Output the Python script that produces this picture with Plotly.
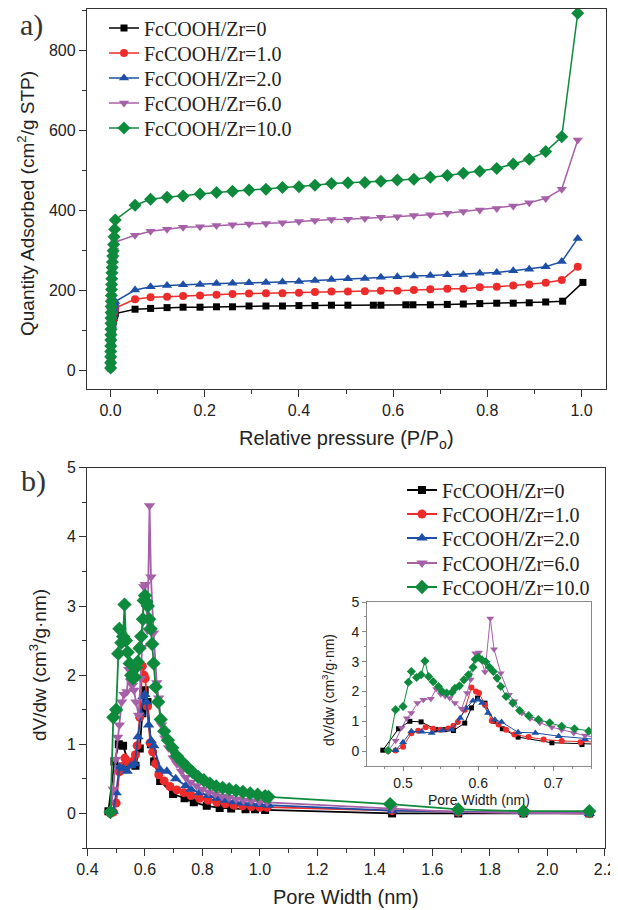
import plotly.graph_objects as go

# ---------------- Panel a data (N2 isotherms) ----------------
names = ["FcCOOH/Zr=0", "FcCOOH/Zr=1.0", "FcCOOH/Zr=2.0", "FcCOOH/Zr=6.0", "FcCOOH/Zr=10.0"]
colors = ["#000000", "#ee2b2b", "#1d4fa6", "#a660a8", "#0e8a3c"]
symbols = ["square", "circle", "triangle-up", "triangle-down", "diamond"]

low_p = [0.0001, 0.0002, 0.0003, 0.0004, 0.0005, 0.0006, 0.0007, 0.0008, 0.0009, 0.001,
         0.0012, 0.0014, 0.0016, 0.0018, 0.002, 0.0023, 0.0026, 0.003, 0.0035, 0.004,
         0.0047, 0.0055, 0.0065, 0.0075, 0.0087, 0.010]
low_y_0 = [5, 10, 16, 21, 27, 33, 38, 44, 50, 55, 61, 66, 71, 77, 83, 88, 94, 99, 105, 110,
           115, 121, 126, 131, 136, 141]
low_y_1 = [5, 11, 17, 24, 29, 35, 42, 47, 53, 60, 65, 71, 78, 83, 89, 96, 101, 107, 114, 119,
           125, 131, 137, 143, 149, 155]
low_y_2 = [5, 12, 19, 27, 33, 40, 48, 54, 61, 69, 75, 82, 90, 96, 103, 111, 117, 124, 132,
           138, 145, 151, 157, 162, 167, 171]
low_y_6 = [5, 17, 31, 43, 56, 70, 82, 95, 109, 121, 134, 148, 160, 173, 187, 199, 212, 226,
           238, 251, 265, 276, 288, 300, 310, 320]
low_y_10 = [5, 18, 33, 46, 60, 75, 88, 102, 117, 130, 144, 159, 172, 186, 201, 214, 228, 243,
            256, 270, 285, 298, 314, 333, 352, 375]

a_x = [0.052, 0.085, 0.120, 0.154, 0.190, 0.225, 0.259, 0.294, 0.330, 0.365, 0.400, 0.434,
       0.469, 0.504, 0.540, 0.574, 0.609, 0.644, 0.679, 0.715, 0.749, 0.784, 0.820, 0.855,
       0.889, 0.924, 0.958, 0.992]
a_x_0 = [0.052, 0.085, 0.120, 0.154, 0.190, 0.225, 0.259, 0.294, 0.330, 0.365, 0.400, 0.434,
         0.469, 0.504, 0.558, 0.574, 0.627, 0.642, 0.679, 0.715, 0.749, 0.784, 0.820, 0.855,
         0.889, 0.924, 0.960, 1.003]
a_y_0 = [152, 154, 156, 157, 157, 158, 158, 160, 160, 160, 161, 161, 162, 162, 162, 162, 163,
         163, 163, 164, 165, 166, 167, 167, 168, 170, 172, 219]
a_y_1 = [177, 182, 183, 185, 186, 188, 190, 191, 192, 192, 193, 195, 196, 196, 197, 198, 198,
         200, 202, 203, 203, 207, 208, 211, 214, 218, 225, 258]
a_y_2 = [200, 208, 211, 213, 214, 216, 217, 218, 219, 220, 221, 224, 226, 228, 229, 232, 233,
         235, 236, 238, 239, 242, 244, 248, 252, 258, 271, 329]
a_y_6 = [337, 347, 352, 357, 358, 361, 363, 365, 366, 368, 371, 374, 376, 377, 379, 382, 383,
         386, 388, 392, 396, 400, 404, 410, 418, 429, 452, 575]
a_y_10 = [412, 427, 432, 435, 440, 444, 447, 450, 452, 456, 458, 462, 466, 468, 469, 472, 475,
          477, 482, 486, 492, 497, 504, 515, 527, 546, 583, 892]

# ---------------- Panel b data (pore size distribution) ----------------
b_x_0 = [0.473, 0.494, 0.509, 0.524, 0.544, 0.556, 0.567, 0.582, 0.591, 0.599, 0.609, 0.621,
         0.632, 0.653, 0.698, 0.738, 0.770, 0.815, 0.860, 0.900, 0.950, 0.983, 1.018, 1.460,
         1.690, 1.917, 2.146]
b_y_0 = [0.03, 0.75, 1.00, 0.98, 0.72, 0.72, 0.69, 0.94, 1.45, 1.78, 1.61, 1.00, 0.75, 0.47,
         0.28, 0.22, 0.16, 0.11, 0.08, 0.07, 0.06, 0.06, 0.05, 0.00, 0.00, 0.00, 0.00]
b_x_1 = [0.480, 0.490, 0.500, 0.511, 0.520, 0.530, 0.540, 0.550, 0.560, 0.567, 0.573, 0.582,
         0.591, 0.597, 0.601, 0.609, 0.618, 0.627, 0.637, 0.648, 0.667, 0.687, 0.711, 0.736,
         0.760, 0.790, 0.820, 0.850, 0.880, 0.910, 0.940, 0.970, 1.000, 1.025, 1.460, 1.690,
         1.917, 2.146]
b_y_1 = [0.00, 0.02, 0.15, 0.60, 0.68, 0.80, 0.75, 0.72, 0.76, 0.85, 0.98, 1.39, 2.13, 2.00,
         1.95, 1.55, 1.02, 0.89, 0.72, 0.56, 0.47, 0.39, 0.34, 0.30, 0.26, 0.22, 0.19, 0.16,
         0.14, 0.12, 0.11, 0.10, 0.09, 0.09, 0.04, 0.02, 0.01, 0.00]
b_x_2 = [0.490, 0.500, 0.511, 0.525, 0.538, 0.552, 0.565, 0.576, 0.584, 0.593, 0.600, 0.605,
         0.613, 0.622, 0.631, 0.653, 0.676, 0.707, 0.742, 0.760, 0.790, 0.820, 0.850, 0.880,
         0.910, 0.940, 0.970, 1.000, 1.030, 1.460, 1.690, 1.917, 2.146]
b_y_2 = [0.03, 0.30, 0.67, 0.65, 0.61, 0.69, 0.72, 1.11, 1.45, 1.69, 1.72, 1.61, 1.28, 1.05,
         0.98, 0.63, 0.61, 0.50, 0.40, 0.35, 0.30, 0.26, 0.22, 0.19, 0.17, 0.15, 0.14, 0.13,
         0.12, 0.04, 0.02, 0.01, 0.00]
b_x_6 = [0.480, 0.490, 0.498, 0.505, 0.511, 0.519, 0.527, 0.537, 0.544, 0.550, 0.556, 0.562,
         0.569, 0.578, 0.585, 0.590, 0.596, 0.601, 0.609, 0.616, 0.621, 0.630, 0.641, 0.648,
         0.658, 0.669, 0.682, 0.698, 0.711, 0.727, 0.742, 0.760, 0.780, 0.800, 0.822, 0.845,
         0.868, 0.892, 0.917, 0.943, 0.970, 0.998, 1.025, 1.460, 1.690, 1.917, 2.146]
b_y_6 = [0.00, 0.35, 0.78, 1.10, 1.28, 1.61, 1.72, 1.76, 2.08, 1.91, 1.85, 1.78, 1.61, 1.42,
         1.95, 2.40, 3.28, 3.31, 2.65, 4.45, 3.42, 2.61, 1.89, 1.67, 1.28, 1.09, 0.95, 0.80,
         0.72, 0.61, 0.52, 0.45, 0.40, 0.35, 0.31, 0.28, 0.25, 0.23, 0.21, 0.19, 0.18, 0.17,
         0.16, 0.07, 0.02, 0.01, 0.00]
b_x_10 = [0.480, 0.490, 0.500, 0.507, 0.511, 0.518, 0.524, 0.529, 0.534, 0.540, 0.547, 0.552,
          0.558, 0.565, 0.569, 0.575, 0.581, 0.587, 0.593, 0.596, 0.600, 0.605, 0.610, 0.615,
          0.620, 0.625, 0.630, 0.637, 0.646, 0.655, 0.667, 0.680, 0.695, 0.711, 0.728, 0.747,
          0.765, 0.785, 0.805, 0.826, 0.848, 0.870, 0.893, 0.917, 0.941, 0.966, 0.992, 1.018,
          1.030, 1.453, 1.690, 1.917, 2.146]
b_y_10 = [0.02, 1.39, 1.50, 2.31, 2.67, 2.47, 2.56, 3.02, 2.50, 2.33, 2.17, 2.00, 1.95, 1.97,
          2.11, 2.19, 2.39, 2.56, 2.81, 3.08, 3.15, 3.06, 3.00, 2.81, 2.67, 2.45, 2.17, 1.83,
          1.61, 1.36, 1.19, 1.06, 0.95, 0.83, 0.75, 0.67, 0.60, 0.53, 0.48, 0.43, 0.39, 0.37,
          0.35, 0.33, 0.31, 0.29, 0.27, 0.25, 0.24, 0.135, 0.058, 0.033, 0.033]

a_series = [
    (low_p + a_x_0, low_y_0 + a_y_0),
    (low_p + a_x, low_y_1 + a_y_1),
    (low_p + a_x, low_y_2 + a_y_2),
    (low_p + a_x, low_y_6 + a_y_6),
    (low_p + a_x, low_y_10 + a_y_10),
]
b_series = [(b_x_0, b_y_0), (b_x_1, b_y_1), (b_x_2, b_y_2), (b_x_6, b_y_6), (b_x_10, b_y_10)]

a_sizes = [7, 8, 9, 9, 10]
b_sizes = [8, 9, 10, 10, 11]
i_sizes = [5, 6, 7, 7, 7]

W, H = 618, 910
OFF = 8  # default page body margin shifts the figure by this many pixels
SANS = "Liberation Sans"
SERIF = "Liberation Serif"


def px_x(p):
    return (p - OFF) / W


def px_y(p):
    return 1 - (p - OFF) / H


legend_rows_a = [28, 53, 78, 103, 128]
legend_rows_b = [490, 514, 538, 563, 587]
leg_names_a = ["legend", "legend2", "legend3", "legend4", "legend5"]
leg_names_b = ["legend6", "legend7", "legend8", "legend9", "legend10"]

fig = go.Figure()

for i in range(5):
    x, y = a_series[i]
    fig.add_trace(go.Scatter(x=x, y=y, mode="lines+markers", name=names[i],
                             line=dict(color=colors[i], width=1.5),
                             marker=dict(symbol=symbols[i], size=a_sizes[i], color=colors[i]),
                             xaxis="x", yaxis="y", legend=leg_names_a[i]))
for i in range(5):
    x, y = b_series[i]
    fig.add_trace(go.Scatter(x=x, y=y, mode="lines+markers", name=names[i],
                             line=dict(color=colors[i], width=1.8),
                             marker=dict(symbol=symbols[i], size=b_sizes[i], color=colors[i]),
                             xaxis="x2", yaxis="y2", legend=leg_names_b[i]))
for i in range(5):
    x, y = b_series[i]
    fig.add_trace(go.Scatter(x=x, y=y, mode="lines+markers", name=names[i], showlegend=False,
                             line=dict(color=colors[i], width=1),
                             marker=dict(symbol=symbols[i], size=i_sizes[i], color=colors[i]),
                             xaxis="x3", yaxis="y3"))


def axis(domain, rng, tick0, dtick, mtick0, mdtick, anchor, fmt, tl=7, mtl=4,
         fs=16, lc="#333333", lw=1.3):
    return dict(domain=domain, range=rng, anchor=anchor, showgrid=False, zeroline=False,
                automargin=False,
                showline=True, mirror=True, linecolor=lc, linewidth=lw,
                ticks="outside", ticklen=tl, tickwidth=1.2, tickcolor=lc,
                tick0=tick0, dtick=dtick, tickformat=fmt,
                tickfont=dict(family=SANS, size=fs, color="#222222"),
                minor=dict(ticks="outside", ticklen=mtl, tickwidth=1.1, tickcolor=lc,
                           tick0=mtick0, dtick=mdtick, showgrid=False))


layout = dict(
    width=W, height=H, margin=dict(l=0, r=0, t=0, b=0, autoexpand=False),
    paper_bgcolor="white", plot_bgcolor="white",
    xaxis=axis([px_x(87), px_x(606)], [-0.05, 1.052], 0, 0.2, 0, 0.1, "y", ".1f"),
    yaxis=axis([px_y(389), px_y(9)], [-47.5, 902.5], 0, 200, 0, 100, "x", "d"),
    xaxis2=axis([px_x(87.3), px_x(605)], [0.3995, 2.2005], 0.4, 0.2, 0.4, 0.1, "y2", ".1f"),
    yaxis2=axis([px_y(848), px_y(467.5)], [-0.5, 5.003], 0, 1, 0, 0.5, "x2", "d"),
    xaxis3=axis([px_x(367), px_x(591)], [0.452, 0.75], 0.5, 0.1, 0.5, 0.025, "y3", ".1f",
                tl=4, mtl=2, fs=14, lc="#888888", lw=1),
    yaxis3=axis([px_y(766), px_y(602)], [-0.5, 5.003], 0, 1, 0, 0.5, "x3", "d",
                tl=4, mtl=2, fs=14, lc="#888888", lw=1),
)
for nm, row in zip(leg_names_a, legend_rows_a):
    layout[nm] = dict(x=px_x(104), y=px_y(row), xanchor="left", yanchor="middle",
                      bgcolor="rgba(0,0,0,0)",
                      font=dict(family=SERIF, size=20, color="#222222"))
for nm, row in zip(leg_names_b, legend_rows_b):
    layout[nm] = dict(x=px_x(402), y=px_y(row), xanchor="left", yanchor="middle",
                      bgcolor="rgba(0,0,0,0)",
                      font=dict(family=SERIF, size=20, color="#222222"))
fig.update_layout(**layout)

ann = [
    dict(text="Relative pressure (P/P<sub>o</sub>)", x=px_x(346), y=px_y(439), size=20, angle=0),
    dict(text="Quantity Adsorbed (cm<sup>2</sup>/g STP)", x=px_x(26), y=px_y(204), size=19, angle=-90),
    dict(text="Pore Width (nm)", x=px_x(346), y=px_y(897), size=20, angle=0),
    dict(text="dV/dw (cm<sup>3</sup>/g·nm)", x=px_x(38), y=px_y(665), size=19, angle=-90),
    dict(text="Pore Width (nm)", x=px_x(479), y=px_y(800), size=14, angle=0),
    dict(text="dV/dw (cm<sup>3</sup>/g·nm)", x=px_x(328), y=px_y(690), size=14, angle=-90),
]
for a in ann:
    fig.add_annotation(text=a["text"], x=a["x"], y=a["y"], xref="paper", yref="paper",
                       xanchor="center", yanchor="middle", showarrow=False, textangle=a["angle"],
                       font=dict(family=SANS, size=a["size"], color="#222222"))
for lab, xx, yy in [("a)", 31, 25), ("b)", 33, 481)]:
    fig.add_annotation(text=lab, x=px_x(xx), y=px_y(yy), xref="paper", yref="paper",
                       xanchor="center", yanchor="middle", showarrow=False,
                       font=dict(family=SERIF, size=30, color="#333333"))

fig.write_html("out.html")
